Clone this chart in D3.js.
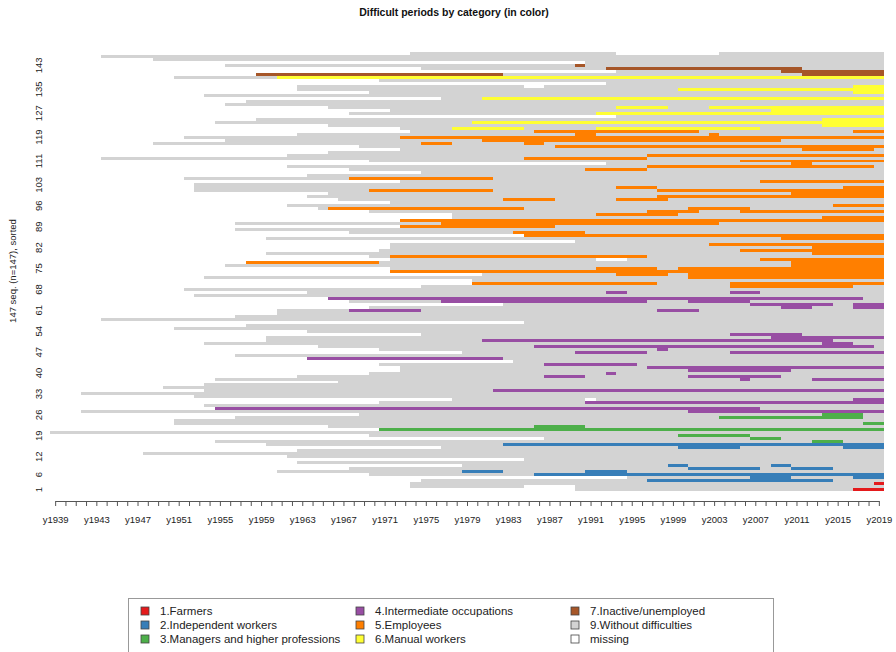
<!DOCTYPE html>
<html>
<head>
<meta charset="utf-8">
<script src="https://cdn.jsdelivr.net/npm/d3@7/dist/d3.min.js"></script>
<style>
body { margin: 0; background: #fff; }
text { font-family: "Liberation Sans", Arial, sans-serif; }
</style>
</head>
<body>
<svg width="896" height="652"></svg>
<script>
// states: code, label, colour (0 = missing)
var stateCodes = [1, 2, 3, 4, 5, 6, 7, 9, 0];
var stateLabels = ["1.Farmers", "2.Independent workers", "3.Managers and higher professions",
  "4.Intermediate occupations", "5.Employees", "6.Manual workers",
  "7.Inactive/unemployed", "9.Without difficulties", "missing"];
var stateColors = ["#e41a1c", "#377eb8", "#4daf4a", "#984ea3", "#ff7f00", "#ffff33",
  "#a65628", "#d3d3d3", "#ffffff"];

var firstYear = 1939, lastYear = 2019;
var yTickLabels = [1, 6, 12, 19, 26, 33, 40, 47, 54, 61, 68, 75, 82, 89, 96, 103, 111, 119, 127, 135, 143];

// first observed year of each sequence, row 1 (bottom) .. row 147 (top)
var rowStart = [
  1990, 1974, 1974, 1975, 1995, 1970, 1961, 1968, 1979, 1963,
  1985, 1962, 1948, 1963, 1977, 1960, 1955, 1987, 1970, 1939,
  1971, 1966, 1951, 1951, 1957, 1969, 1942, 1955, 1954, 1971,
  1978, 1953, 1942, 1954, 1950, 1954, 1967, 1955, 1963, 1970,
  1973, 1973, 1971, 1984, 1964, 1957, 1979, 1971, 1965, 1954,
  1960, 1960, 1975, 1964, 1951, 1958, 1985, 1944, 1957, 1961,
  1961, 1970, 1983, 1968, 1966, 1953, 1964, 1952, 1975, 1980,
  1980, 1954, 1981, 1972, 1972, 1956, 1958, 1972, 1970, 1960,
  1971, 1972, 1972, 1990, 1960, 1985, 1968, 1957, 1973, 1957,
  1973, 1978, 1978, 1970, 1965, 1962, 1972, 1967, 1964, 1966,
  1953, 1953, 1953, 1973, 1952, 1964, 1975, 1968, 1962, 1993,
  1970, 1944, 1962, 1966, 1973, 1969, 1949, 1956, 1952, 1963,
  1974, 1973, 1966, 1955, 1959, 1994, 1968, 1972, 1966, 1956,
  1958, 1977, 1954, 1970, 1963, 1963, 1993, 1971, 1951, 1959,
  1994, 1975, 1956, 1991, 1949, 1944, 1974
];

// spells that differ from "without difficulties": [row, state, from, to]
var spells = [
  [147, 0, 1994, 2003],
  [143, 7, 1990, 1990],
  [142, 7, 1993, 2011],
  [141, 7, 2010, 2019],
  [140, 7, 1959, 1982], [140, 7, 2012, 2019],
  [139, 6, 1961, 2019],
  [136, 0, 1985, 1986], [136, 6, 2017, 2019],
  [135, 6, 2000, 2019],
  [134, 6, 2017, 2019],
  [132, 6, 1981, 2019],
  [129, 6, 1994, 1998], [129, 6, 2003, 2019],
  [128, 6, 2009, 2019],
  [127, 6, 1992, 2019],
  [125, 6, 2014, 2019],
  [124, 6, 1980, 2019],
  [123, 6, 2014, 2019],
  [122, 6, 1978, 1984], [122, 6, 1992, 2007],
  [121, 5, 1986, 2001], [121, 5, 2017, 2019],
  [120, 5, 1990, 1991], [120, 5, 2003, 2003],
  [119, 5, 1973, 2019],
  [118, 5, 1981, 2009],
  [117, 5, 1975, 1977], [117, 5, 1985, 1986],
  [116, 5, 1988, 2019],
  [115, 5, 2012, 2018],
  [113, 5, 1997, 2019],
  [112, 5, 1985, 1996],
  [111, 5, 2006, 2019],
  [110, 5, 2011, 2012],
  [109, 5, 1997, 2018],
  [108, 5, 1991, 1996],
  [105, 5, 1968, 1981],
  [104, 5, 2008, 2019],
  [102, 5, 1994, 1997], [102, 5, 2016, 2019],
  [101, 5, 1970, 1981], [101, 5, 1998, 2019],
  [100, 5, 2011, 2019],
  [99, 5, 1998, 2019],
  [98, 5, 1983, 1987], [98, 5, 1994, 1998],
  [96, 5, 2015, 2019],
  [95, 5, 1966, 1984], [95, 5, 2001, 2006],
  [94, 5, 1997, 2001], [94, 5, 2006, 2019],
  [93, 5, 1992, 1999],
  [92, 5, 2014, 2019],
  [91, 5, 1973, 2019],
  [90, 5, 1977, 2003],
  [89, 5, 1973, 1987],
  [87, 5, 1984, 1990],
  [86, 5, 1985, 2019],
  [85, 5, 2010, 2019],
  [83, 5, 2003, 2019],
  [82, 5, 2013, 2019],
  [81, 5, 2006, 2019],
  [80, 5, 2013, 2019],
  [79, 5, 1972, 1996],
  [78, 0, 1992, 1994], [78, 5, 2008, 2019],
  [77, 5, 1958, 1970], [77, 5, 2011, 2019],
  [76, 5, 2011, 2019],
  [75, 5, 1992, 1997], [75, 5, 2000, 2019],
  [74, 5, 1972, 2019],
  [73, 5, 1994, 1998], [73, 5, 2001, 2019],
  [72, 5, 2001, 2019],
  [70, 5, 1980, 1997], [70, 5, 2005, 2019],
  [69, 5, 2005, 2016],
  [67, 4, 1993, 1994], [67, 4, 2005, 2007],
  [65, 4, 1966, 2017],
  [64, 4, 1977, 1996], [64, 4, 2001, 2006],
  [63, 4, 2007, 2014], [63, 4, 2017, 2019],
  [62, 4, 2010, 2012], [62, 4, 2017, 2019],
  [61, 4, 1968, 1974], [61, 4, 1998, 2001],
  [53, 4, 2005, 2011],
  [52, 4, 2009, 2019],
  [51, 4, 1981, 2014],
  [50, 4, 2014, 2016],
  [49, 4, 1986, 2018],
  [48, 4, 1998, 1998],
  [47, 4, 1990, 1996], [47, 4, 2005, 2019],
  [45, 4, 1964, 1982],
  [43, 4, 1987, 1995],
  [42, 4, 1997, 2019],
  [41, 4, 2001, 2010],
  [40, 4, 1993, 1993],
  [39, 4, 1987, 1990], [39, 4, 2001, 2009],
  [38, 4, 2006, 2006], [38, 4, 2013, 2019],
  [34, 4, 1982, 2019],
  [31, 0, 1991, 1991], [31, 4, 2017, 2019],
  [30, 4, 1991, 2019],
  [28, 4, 1955, 2007],
  [27, 4, 2001, 2019],
  [26, 3, 2014, 2017],
  [25, 3, 2004, 2017],
  [23, 3, 2018, 2019],
  [22, 3, 1986, 1990],
  [21, 3, 1971, 2019],
  [19, 3, 2000, 2006],
  [18, 3, 2007, 2009],
  [17, 3, 2013, 2015],
  [16, 2, 1983, 2019],
  [15, 2, 2000, 2005], [15, 2, 2016, 2019],
  [9, 2, 1999, 2000], [9, 2, 2009, 2010],
  [8, 2, 2001, 2007], [8, 2, 2011, 2014],
  [7, 2, 1979, 1982], [7, 2, 1991, 1994],
  [6, 2, 1986, 2019],
  [5, 2, 2007, 2010], [5, 2, 2017, 2019],
  [4, 2, 1997, 2014],
  [3, 1, 2019, 2019],
  [2, 0, 1985, 1989],
  [1, 1, 2017, 2019]
];

var svg = d3.select("svg");
var years = d3.range(firstYear, lastYear + 1);
var rows = d3.range(1, rowStart.length + 1);

var x = d3.scaleBand().domain(years).range([50, 884]);
var xTick = d3.scalePoint().domain(years)
  .range([50 + x.bandwidth() / 2, 884 - x.bandwidth() / 2]);
var y = d3.scaleBand().domain(rows).range([491, 52]);
var color = d3.scaleOrdinal().domain(stateCodes).range(stateColors);

// build the state of every row / year
var seq = rows.map(function (r) {
  return years.map(function (yr) { return yr < rowStart[r - 1] ? 0 : 9; });
});
spells.forEach(function (s) {
  for (var yr = s[2]; yr <= s[3]; yr++) seq[s[0] - 1][yr - firstYear] = s[1];
});

// turn each row into runs of the same state
var runs = [];
seq.forEach(function (states, i) {
  var start = 0;
  for (var k = 1; k <= states.length; k++) {
    if (k == states.length || states[k] != states[start]) {
      if (states[start] != 0)
        runs.push({ row: i + 1, state: states[start], from: years[start], to: years[k - 1] });
      start = k;
    }
  }
});

svg.append("g").selectAll("rect").data(runs).enter().append("rect")
  .attr("x", d => x(d.from))
  .attr("width", d => x(d.to) + x.bandwidth() - x(d.from))
  .attr("y", d => y(d.row))
  .attr("height", y.bandwidth())
  .attr("fill", d => color(d.state))
  .attr("shape-rendering", "crispEdges");

// x axis
var xAxis = d3.axisBottom(xTick).tickSize(5).tickSizeOuter(0).tickPadding(10)
  .tickFormat(d => (d - firstYear) % 4 == 0 ? "y" + d : "");
var xAxisG = svg.append("g").attr("transform", "translate(0,501)").call(xAxis);
xAxisG.selectAll("path, line").attr("stroke", "#555");
xAxisG.selectAll("text").attr("font-size", "9.5px").attr("fill", "#222")
  .style("font-family", "'Liberation Sans', Arial, sans-serif");

// y labels
svg.append("g").selectAll("text").data(yTickLabels).enter().append("text")
  .attr("transform", d => `translate(42,${y(d) + y.bandwidth() / 2}) rotate(-90)`)
  .attr("text-anchor", "middle").attr("font-size", "9.5px").attr("fill", "#222")
  .text(d => d);

svg.append("text")
  .attr("transform", "translate(16,271) rotate(-90)")
  .attr("text-anchor", "middle").attr("font-size", "9.5px").attr("fill", "#222")
  .text("147 seq. (n=147), sorted");

svg.append("text").attr("x", 454).attr("y", 16).attr("text-anchor", "middle")
  .attr("font-size", "10.5px").attr("font-weight", "bold").attr("fill", "#111")
  .text("Difficult periods by category (in color)");

// legend
var legend = svg.append("g");
legend.append("rect").attr("x", 128.5).attr("y", 598.5).attr("width", 645).attr("height", 70)
  .attr("fill", "none").attr("stroke", "#999");
var legCols = [141, 356, 571];
var legRows = [611, 625, 639];
var items = legend.selectAll("g.item").data(stateCodes).enter().append("g").attr("class", "item")
  .attr("transform", (d, i) => `translate(${legCols[Math.floor(i / 3)]},${legRows[i % 3]})`);
items.append("rect").attr("x", 0).attr("y", -4).attr("width", 8).attr("height", 8)
  .attr("fill", d => color(d)).attr("stroke", "#444").attr("stroke-width", 0.8);
items.append("text").attr("x", 19).attr("y", 4).attr("font-size", "11.5px").attr("fill", "#222")
  .text((d, i) => stateLabels[i]);
</script>
</body>
</html>
